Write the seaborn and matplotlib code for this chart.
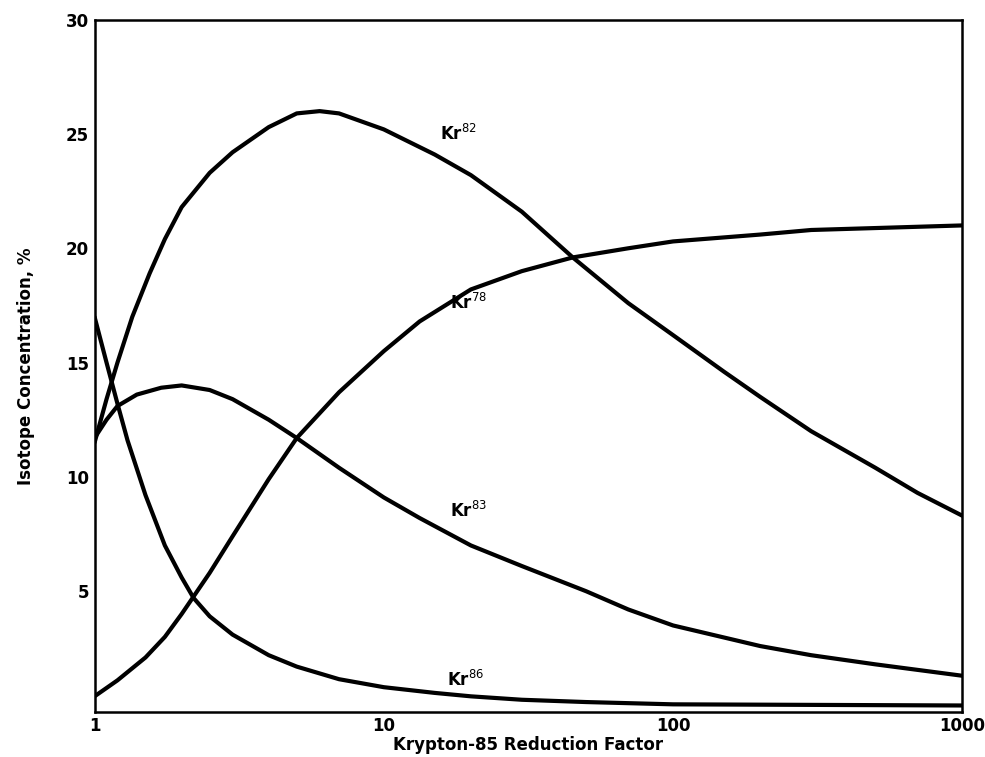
import numpy as np
import pandas as pd
import matplotlib
matplotlib.use("Agg")
import matplotlib.pyplot as plt
import seaborn as sns

sns.set_theme(style="white")
plt.rcParams['font.family'] = ['DejaVu Sans']
plt.rcParams['text.color'] = 'black'
plt.rcParams['axes.labelcolor'] = 'black'
plt.rcParams['xtick.color'] = 'black'
plt.rcParams['ytick.color'] = 'black'

# Data
kr82_x = [1, 1.1, 1.2, 1.35, 1.55, 1.75, 2, 2.5, 3, 4, 5, 6, 7, 10, 15, 20, 30, 45, 70, 100, 150, 200, 300, 500, 700, 1000]
kr82_y = [11.5, 13.4, 15.0, 17.0, 18.9, 20.4, 21.8, 23.3, 24.2, 25.3, 25.9, 26.0, 25.9, 25.2, 24.1, 23.2, 21.6, 19.6, 17.6, 16.2, 14.6, 13.5, 12.0, 10.4, 9.3, 8.3]

kr78_x = [1, 1.2, 1.5, 1.75, 2, 2.5, 3, 4, 5, 7, 10, 13.3, 20, 30, 45, 70, 100, 200, 300, 1000]
kr78_y = [0.4, 1.1, 2.1, 3.0, 4.0, 5.8, 7.4, 9.9, 11.7, 13.7, 15.5, 16.8, 18.2, 19.0, 19.6, 20.0, 20.3, 20.6, 20.8, 21.0]

kr83_x = [1, 1.1, 1.2, 1.4, 1.7, 2, 2.5, 3, 4, 5, 7, 10, 13.3, 20, 30, 50, 70, 100, 200, 300, 500, 1000]
kr83_y = [11.7, 12.5, 13.1, 13.6, 13.9, 14.0, 13.8, 13.4, 12.5, 11.7, 10.4, 9.1, 8.2, 7.0, 6.1, 5.0, 4.2, 3.5, 2.6, 2.2, 1.8, 1.3]

kr86_x = [1, 1.1, 1.2, 1.3, 1.5, 1.75, 2, 2.2, 2.5, 3, 4, 5, 7, 10, 15, 20, 30, 50, 100, 1000]
kr86_y = [17.0, 15.0, 13.2, 11.6, 9.2, 7.0, 5.6, 4.7, 3.9, 3.1, 2.2, 1.7, 1.15, 0.8, 0.55, 0.4, 0.25, 0.15, 0.05, 0.0]

labels = ["Kr$^{82}$", "Kr$^{78}$", "Kr$^{83}$", "Kr$^{86}$"]
label_x = [15.6, 16.9, 16.9, 16.5]
label_y = [25.0, 17.6, 8.5, 1.1]

xticks = [1, 10, 100, 1000]
yticks = [5, 10, 15, 20, 25, 30]

fig = plt.figure(figsize=(9.85, 7.57), dpi=100)
ax = fig.add_axes([0.096, 0.059, 0.881, 0.915])

series = [(kr82_x, kr82_y), (kr78_x, kr78_y), (kr83_x, kr83_y), (kr86_x, kr86_y)]
for (xs, ys) in series:
    df = pd.DataFrame({"x": xs, "y": ys})
    sns.lineplot(data=df, x="x", y="y", ax=ax, color="black", linewidth=3.0,
                 estimator=None, sort=True)

for lab, lx, ly in zip(labels, label_x, label_y):
    ax.text(lx, ly, lab, fontsize=12, fontweight="bold", color="black",
            ha="left", va="center")

ax.set_xscale("log")
ax.set_xlim(1, 1000)
ax.set_ylim(-0.3, 30)
ax.set_xticks(xticks)
ax.set_xticklabels([str(t) for t in xticks])
ax.minorticks_off()
ax.set_yticks(yticks)
ax.set_yticklabels([str(t) for t in yticks])
ax.tick_params(axis="y", direction="in", length=20, width=1.5, labelsize=12, pad=4)
ax.tick_params(axis="x", length=0, labelsize=12, pad=3)
for lab in ax.get_xticklabels() + ax.get_yticklabels():
    lab.set_fontweight("bold")
ax.set_xlabel("Krypton-85 Reduction Factor", fontsize=12, fontweight="bold", labelpad=1)
ax.set_ylabel("Isotope Concentration, %", fontsize=12, fontweight="bold", labelpad=22)
for s in ax.spines.values():
    s.set_color("black")
    s.set_linewidth(1.8)

fig.savefig("out.png", dpi=100, facecolor="white")
